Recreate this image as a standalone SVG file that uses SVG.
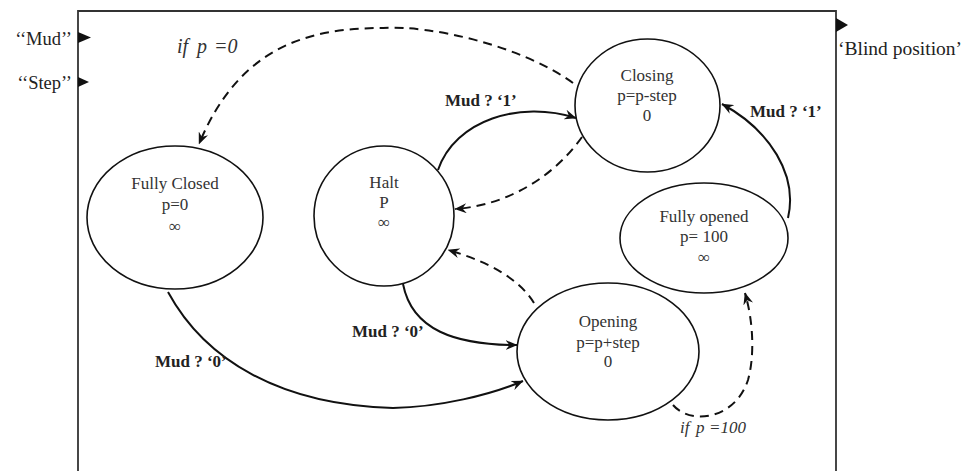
<svg xmlns="http://www.w3.org/2000/svg" width="974" height="471" viewBox="0 0 974 471">
<style>
.st{fill:none;stroke:#111;stroke-width:1.6}
.nt{font-family:"Liberation Serif","Times New Roman",serif;font-size:17px;fill:#333;text-anchor:middle}
.lb{font-family:"Liberation Serif","Times New Roman",serif;font-size:17px;font-weight:bold;fill:#222}
.io{font-family:"Liberation Serif","Times New Roman",serif;font-size:18.5px;fill:#222}
.cond{font-family:"Liberation Serif","Times New Roman",serif;font-style:italic;fill:#333}
.c{fill:none;stroke:#111;stroke-width:2}
.d{stroke-dasharray:9 6}
.tri{fill:#111}
</style>
<defs>
<marker id="ah" viewBox="0 0 12 10" refX="11.5" refY="5" markerWidth="12" markerHeight="10" markerUnits="userSpaceOnUse" orient="auto">
<path d="M0,0 L12,5 L0,10 L4,5 z" fill="#111"/>
</marker>
</defs>
<g id="frame">
<path d="M78,471 L78,11 L836,11 L836,471" fill="none" stroke="#333" stroke-width="1.8"/>
<path class="tri" d="M78,32 L91,37.5 L78,43 z"/>
<path class="tri" d="M78,77 L89,82 L78,87 z"/>
<path class="tri" d="M836,18 L848,25 L836,32 z"/>
<text class="io" x="72" y="45" text-anchor="end">‘‘Mud’’</text>
<text class="io" x="72" y="89" text-anchor="end">‘‘Step’’</text>
<text class="io" x="838" y="55" style="font-size:19.5px">‘Blind position’</text>
</g>
<g id="connectors">
<path class="c d" d="M573,83 C520,45 430,25 383,28 C310,28 240,45 199,144" marker-end="url(#ah)"/>
<path class="c" d="M438,170 C455,120 520,100 576,118" marker-end="url(#ah)"/>
<path class="c d" d="M582,137 C555,175 510,205 455,209" marker-end="url(#ah)"/>
<path class="c d" d="M534,303 C520,280 490,262 448,250" marker-end="url(#ah)"/>
<path class="c" d="M403,284 C412,330 455,345 517,345" marker-end="url(#ah)"/>
<path class="c" d="M168,292 C205,360 280,405 393,408 C440,407 490,395 523,381" marker-end="url(#ah)"/>
<path class="c" d="M788,218 C798,175 770,130 722,104" marker-end="url(#ah)"/>
<path class="c d" d="M673,405 C690,425 735,420 748,380 C755,355 753,320 745,293" marker-end="url(#ah)"/>
<text class="cond" y="53" style="font-size:20px"><tspan x="177">if</tspan><tspan x="197">p</tspan><tspan x="214">=0</tspan></text>
<text class="cond" y="433" style="font-size:17px"><tspan x="680">if</tspan><tspan x="696">p</tspan><tspan x="709">=100</tspan></text>
<text class="lb" x="445" y="106">Mud ? ‘1’</text>
<text class="lb" x="750" y="117">Mud ? ‘1’</text>
<text class="lb" x="352" y="337">Mud ? ‘0’</text>
<text class="lb" x="155" y="367">Mud ? ‘0’</text>
</g>
<g id="closing">
<ellipse class="st" cx="647.5" cy="105.5" rx="72.5" ry="66.5"/>
<text class="nt" x="647" y="81">Closing</text>
<text class="nt" x="647" y="101">p=p-step</text>
<text class="nt" x="647" y="121">0</text>
</g>
<g id="fully-closed">
<ellipse class="st" cx="175" cy="217.5" rx="88" ry="71.5"/>
<text class="nt" x="175" y="189">Fully Closed</text>
<text class="nt" x="175" y="210">p=0</text>
<text class="nt" x="175" y="232">∞</text>
</g>
<g id="halt">
<ellipse class="st" cx="384" cy="216" rx="70" ry="70"/>
<text class="nt" x="384" y="188">Halt</text>
<text class="nt" x="384" y="208">P</text>
<text class="nt" x="384" y="228">∞</text>
</g>
<g id="fully-opened">
<ellipse class="st" cx="704" cy="238" rx="84" ry="55"/>
<text class="nt" x="704" y="222">Fully opened</text>
<text class="nt" x="704" y="242">p= 100</text>
<text class="nt" x="704" y="263">∞</text>
</g>
<g id="opening">
<ellipse class="st" cx="608" cy="351.5" rx="91" ry="68.5"/>
<text class="nt" x="608" y="327">Opening</text>
<text class="nt" x="608" y="348">p=p+step</text>
<text class="nt" x="608" y="367">0</text>
</g>
</svg>
